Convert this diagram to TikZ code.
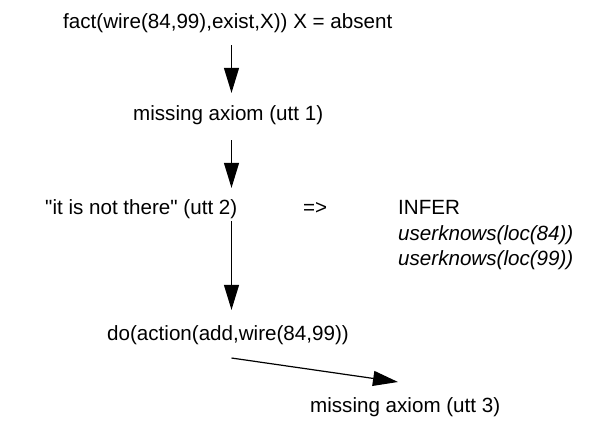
\documentclass[tikz,border=0pt]{standalone}
\usepackage{fontspec}
\setmainfont{Liberation Sans}
\usetikzlibrary{arrows.meta,calc}
\newcommand{\sq}{\XeTeXglyph\XeTeXcharglyph34\relax}
\begin{document}
\begin{tikzpicture}[x=1pt,y=-1pt,
  lbl/.style={anchor=base west,inner sep=0pt,font=\fontsize{20.6}{24}\selectfont},
  arr/.style={line width=1.2pt,-{Triangle[length=25pt,width=15pt]}}]
\useasboundingbox (0,0) rectangle (606,423);
\coordinate (col) at (231.5,0);
\node[lbl] (fact) at (63,28) {fact(wire(84,99),exist,X)) X = absent};
\node[lbl] (m1) at (133,120) {missing axiom (utt 1)};
\node[lbl] (it) at (45,214) {\sq it is not there\sq{} (utt 2)};
\node[lbl] (imp) at (303,214) {=>};
\node[lbl] (inf) at (398,214) {INFER};
\node[lbl] (u84) at (398,240) {\itshape userknows(loc(84))};
\node[lbl] (u99) at (398,265) {\itshape userknows(loc(99))};
\node[lbl] (do) at (107,340) {do(action(add,wire(84,99))};
\node[lbl] (m3) at (310,412) {missing axiom (utt 3)};
\coordinate (a4s) at (231.5,358);
\coordinate (a4e) at (398,382);
\draw[arr,shorten <=12.6pt,shorten >=12pt] (fact.south -| col) -- (m1.north -| col);
\draw[arr,shorten <=15.6pt,shorten >=11pt] (m1.south -| col) -- (it.north -| col);
\draw[arr,shorten <=2.6pt,shorten >=15pt] (it.south -| col) -- (do.north -| col);
\draw[arr] (a4s) -- (a4e);
\end{tikzpicture}
\end{document}
